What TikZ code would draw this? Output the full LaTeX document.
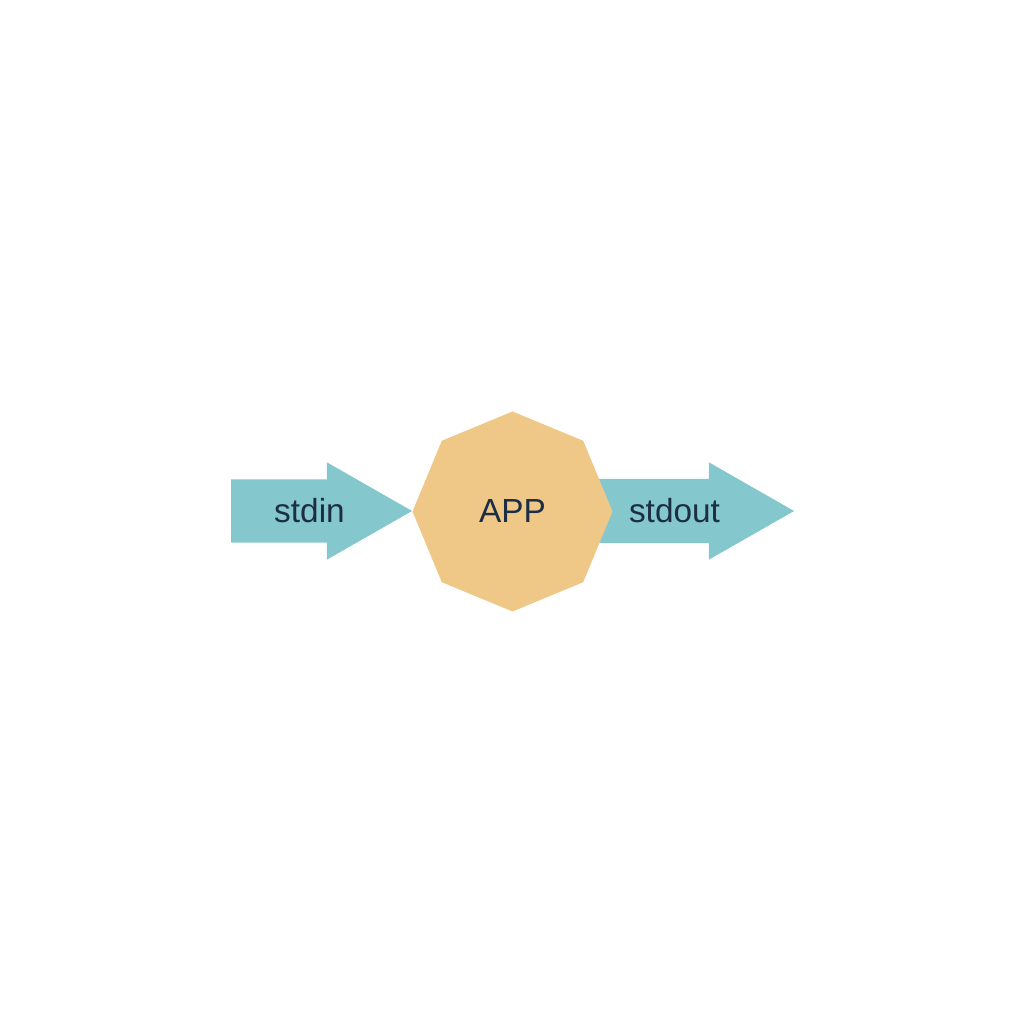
\documentclass[tikz,border=0pt]{standalone}
\usepackage{fontspec}
\setmainfont{Liberation Sans}
\usepackage{xcolor}
\usetikzlibrary{shapes.geometric,shapes.arrows,positioning}
\definecolor{pipe}{HTML}{84C8CE}
\definecolor{app}{HTML}{EFC787}
\definecolor{ink}{HTML}{1B2E45}

\begin{document}
\begin{tikzpicture}[font=\fontsize{9.5}{11.4}\selectfont,text=ink]
  \tikzstyle{every pipe}=[single arrow,fill=pipe,draw=none,inner sep=0pt,
    single arrow tip angle=59.5,single arrow head indent=0pt,anchor=tip]
  \useasboundingbox (0,0) rectangle (10.24,10.24);
  \node[every pipe,minimum height=1.81cm,single arrow head extend=0.17cm] (p_in) at (4.135,5.13) {\rule{0pt}{0.62cm}};
  \node[every pipe,minimum height=2.09cm,single arrow head extend=0.165cm] (p_out) at (7.955,5.13) {\rule{0pt}{0.63cm}};
  \node[regular polygon,regular polygon sides=8,shape border rotate=22.5,
    minimum size=2cm,inner sep=0pt,fill=app] (app) at (5.125,5.125) {APP};
  \node (l_in) at (3.095,5.13) {stdin};
  \node (l_out) at (6.745,5.13) {stdout};
\end{tikzpicture}
\end{document}
